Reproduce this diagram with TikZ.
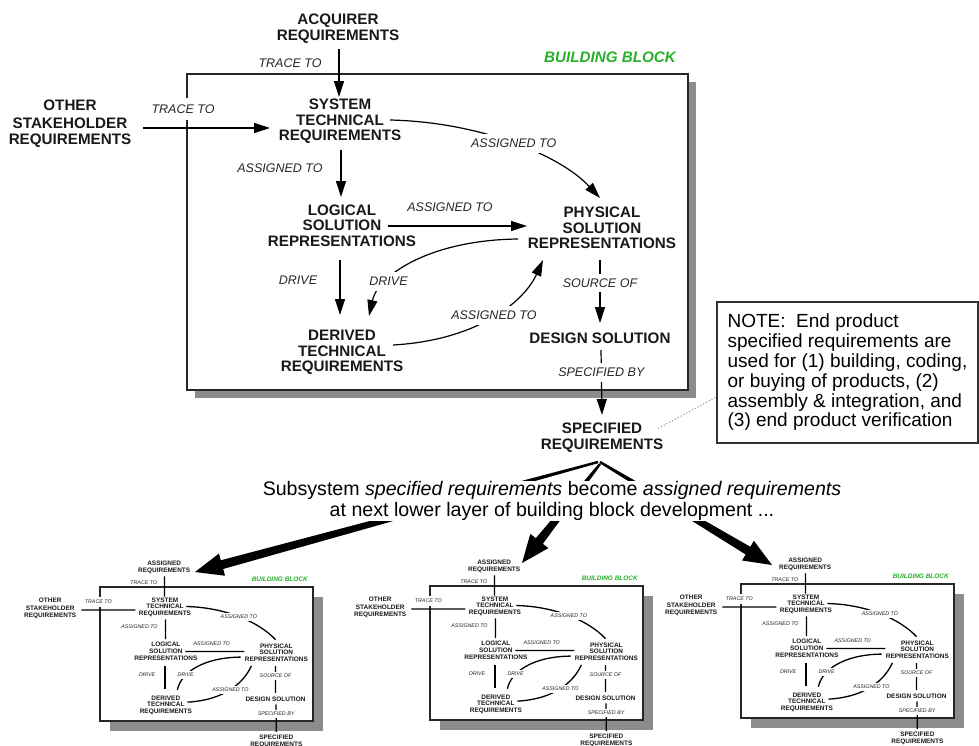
\documentclass[tikz,border=0pt]{standalone}
\usepackage{fontspec}
\setmainfont{Liberation Sans}
\usetikzlibrary{arrows.meta,calc}
\definecolor{bbgreen}{RGB}{40,175,40}
\tikzset{
 bl/.style={font=\fontsize{15.2}{15.5}\selectfont\bfseries, align=center, inner sep=1pt, text=black!90},
 lab/.style={font=\fontsize{12.5}{13}\selectfont\itshape, fill=white, inner xsep=2pt, inner ysep=5pt, text=black!85},
 conn/.style={line width=1.2pt, -{Triangle[length=16pt,width=10pt]}},
 frame/.style={draw=black!85, line width=1.6pt, fill=white},
 shadowfill/.style={fill=black!45},
 ttl/.style={font=\fontsize{15.2}{15.5}\selectfont\bfseries\itshape, text=bbgreen, inner sep=1pt},
 subtext/.style={font=\fontsize{19.6}{20.5}\selectfont, align=center, fill=white, inner sep=1pt},
 notebox/.style={draw=black!80, line width=1.5pt, minimum width=261pt, minimum height=141pt, align=left, font=\fontsize{19}{19.8}\selectfont, inner sep=0pt},
 notelink/.style={draw=black!45, line width=0.9pt, dash pattern=on 1.2pt off 2pt},
}
\newcommand{\bbdiagram}[2]{%
 \fill[shadowfill] (187+#2,74+#2) rectangle (688+#2,390+#2);
 \draw[frame] (187,74) rectangle (688,390);
 \node[ttl] (ttl) at (610,57) {BUILDING BLOCK};
 \node[bl] (acq) at (338,28.5) {#1\\REQUIREMENTS};
 \node[bl] (oth) at (70,124) {OTHER\\[2pt]STAKEHOLDER\\[1pt]REQUIREMENTS};
 \node[bl] (sys) at (340,121.5) {SYSTEM\\TECHNICAL\\REQUIREMENTS};
 \node[bl] (log) at (342,225.5) {LOGICAL\\SOLUTION\\REPRESENTATIONS};
 \node[bl] (phy) at (602,228) {PHYSICAL\\SOLUTION\\REPRESENTATIONS};
 \node[bl] (der) at (342,352.5) {DERIVED\\TECHNICAL\\REQUIREMENTS};
 \node[bl] (des) at (600,338) {DESIGN SOLUTION};
 \node[bl] (spec) at (602,437.5) {SPECIFIED\\REQUIREMENTS};
 \draw[conn] ($(acq)+(1,20.5)$) -- ($(sys)+(-1,-24.5)$) node[lab,pos=0.29,xshift=-49pt]{TRACE TO};
 \draw[conn] ($(oth)+(73,4)$) -- ($(sys)+(-70,6.5)$) node[lab,pos=0.315,yshift=19pt,inner ysep=7pt]{TRACE TO};
 \draw[conn] ($(sys)+(1,28.5)$) -- ($(log)+(-1,-28.5)$) node[lab,pos=0.38,xshift=-61pt]{ASSIGNED TO};
 \draw[conn] ($(log)+(46,0.5)$) -- ($(phy)+(-75,-2)$) node[lab,pos=0.446,yshift=19pt]{ASSIGNED TO};
 \draw[conn] ($(sys)+(50,-1.5)$) .. controls (480,122) and (560,155) .. ($(phy)+(-2,-30)$) node[lab,pos=0.5]{ASSIGNED TO};
 \draw[conn] ($(phy)+(-84,11)$) .. controls (430,240) and (378,275) .. ($(der)+(27,-36.5)$) node[lab,pos=0.7]{DRIVE};
 \draw[conn] ($(log)+(-2,34.5)$) -- ($(der)+(-2,-37.5)$) node[lab,pos=0.36,xshift=-42pt]{DRIVE};
 \draw[conn] ($(der)+(51,-7.5)$) .. controls (480,340) and (525,300) .. ($(phy)+(-59,32)$) node[lab,pos=0.5]{ASSIGNED TO};
 \draw[conn] ($(phy)+(-2,32)$) -- ($(des)+(0,-15)$) node[lab,pos=0.365]{SOURCE OF};
 \draw[conn] ($(des)+(1,12)$) -- ($(spec)+(0,-22.5)$) node[lab,pos=0.34]{SPECIFIED BY};
}
\newcommand{\swoosh}[2]{%
 \path ($(#2)!28pt!(#1)$) coordinate (swh);
 \fill ($(#1)!1.2pt!90:(#2)$) -- ($(swh)!4.5pt!90:(#2)$) -- ($(swh)!11.5pt!90:(#2)$) -- (#2)
   -- ($(swh)!11.5pt!-90:(#2)$) -- ($(swh)!4.5pt!-90:(#2)$) -- ($(#1)!1.2pt!-90:(#2)$) -- cycle;
}
\begin{document}
\begin{tikzpicture}[x=1pt,y=-1pt]
\useasboundingbox (0,0) rectangle (979,745);
\clip (0,0) rectangle (979,745);
% main building block
\bbdiagram{ACQUIRER}{8}
% note
\node[notebox] (note) at (847.5,372.5) {NOTE:\ \ End product\\specified requirements are\\used for (1) building, coding,\\or buying of products, (2)\\assembly \& integration, and\\(3) end product verification};
\draw[notelink] ($(spec)+(56,-9)$) -- ($(note.west)+(0,24.5)$);
% small building blocks
\begin{scope}[shift={(20.5,555.5)}, scale=0.425, transform shape, name prefix=s1-, conn/.style={line width=1.3pt}]
 \bbdiagram{ASSIGNED}{23}
\end{scope}
\begin{scope}[shift={(350.5,554.5)}, scale=0.425, transform shape, name prefix=s2-, conn/.style={line width=1.3pt}]
 \bbdiagram{ASSIGNED}{23}
\end{scope}
\begin{scope}[shift={(661.5,552.5)}, scale=0.425, transform shape, name prefix=s3-, conn/.style={line width=1.3pt}]
 \bbdiagram{ASSIGNED}{23}
\end{scope}
% big arrows
\coordinate (a1) at (598,462); \coordinate (t1) at (195,572);
\coordinate (a2) at (600,464); \coordinate (t2) at (522,563);
\coordinate (a3) at (600,462); \coordinate (t3) at (772,565);
\swoosh{a1}{t1}
\swoosh{a2}{t2}
\swoosh{a3}{t3}
\node[subtext] (subtxt) at (552,501) {Subsystem \textit{specified requirements} become \textit{assigned requirements}\\at next lower layer of building block development ...};
\end{tikzpicture}
\end{document}
